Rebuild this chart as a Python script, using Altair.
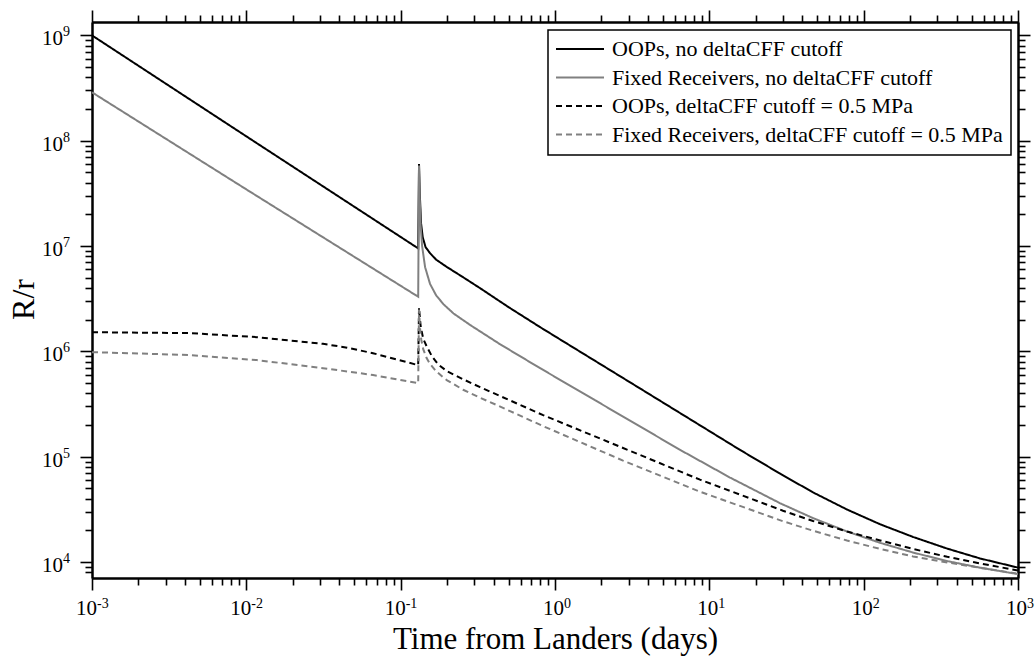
import altair as alt
import pandas as pd

SERIES = [
    "OOPs, no deltaCFF cutoff",
    "Fixed Receivers, no deltaCFF cutoff",
    "OOPs, deltaCFF cutoff = 0.5 MPa",
    "Fixed Receivers, deltaCFF cutoff = 0.5 MPa",
]
COLORS = ["#000000", "#808080", "#000000", "#808080"]
DASHES = [[1, 0], [1, 0], [6, 4], [6, 4]]

# OOPs, no cutoff (black solid)
OOPS_T = [0.001, 0.01, 0.1299, 0.1315, 0.133, 0.1355, 0.139, 0.145, 0.155, 0.17, 0.2, 0.25,
          0.327, 0.5, 0.8, 1.0, 3.57, 15.8, 28.8, 47, 78, 128, 209, 348, 569, 1000]
OOPS_R = [1.0e9, 1.1e8, 9.5e6, 6.0e7, 3.16e7, 1.65e7, 1.21e7, 9.77e6, 8.55e6, 7.41e6, 6.3e6,
          5.13e6, 3.98e6, 2.63e6, 1.7e6, 1.39e6, 4.43e5, 1.16e5, 6.89e4, 4.58e4, 3.15e4,
          2.28e4, 1.73e4, 1.34e4, 1.08e4, 8.85e3]

# Fixed receivers, no cutoff (grey solid)
FIX_T = [0.001, 0.01, 0.1299, 0.1315, 0.133, 0.1347, 0.1377, 0.144, 0.155, 0.17, 0.19, 0.22,
         0.282, 0.44, 0.8, 6.47, 13.6, 28.8, 47, 78, 128, 209, 348, 569, 1000]
FIX_R = [2.88e8, 3.45e7, 3.3e6, 5.8e7, 2.82e7, 1.58e7, 1.0e7, 6.3e6, 4.37e6, 3.39e6, 2.79e6,
         2.29e6, 1.78e6, 1.17e6, 6.93e5, 1.16e5, 6.34e4, 3.61e4, 2.61e4, 1.95e4, 1.52e4,
         1.23e4, 1.02e4, 8.83e3, 7.67e3]

# OOPs, cutoff 0.5 MPa (black dashed)
OOPS_C_T = [0.001, 0.0043, 0.0117, 0.0314, 0.045, 0.0662, 0.1299, 0.1315, 0.1335, 0.135,
            0.14, 0.148, 0.16, 0.175, 0.2, 0.254, 0.327, 0.428, 0.838, 2.76, 8.7, 30, 47,
            78, 128, 209, 348, 569, 1000]
OOPS_C_R = [1.52e6, 1.49e6, 1.365e6, 1.18e6, 1.084e6, 9.6e5, 7.4e5, 2.6e6, 2.0e6, 1.7e6,
            1.32e6, 1.1e6, 8.9e5, 7.5e5, 6.46e5, 5.43e5, 4.57e5, 3.84e5, 2.48e5, 1.21e5,
            6.05e4, 3.07e4, 2.45e4, 1.95e4, 1.6e4, 1.33e4, 1.12e4, 9.7e3, 8.3e3]

# Fixed receivers, cutoff 0.5 MPa (grey dashed)
FIX_C_T = [0.001, 0.0043, 0.0117, 0.0314, 0.0662, 0.1299, 0.1315, 0.1335, 0.136, 0.14, 0.147,
           0.155, 0.17, 0.188, 0.2, 0.254, 0.327, 0.428, 0.838, 2.76, 8.7, 30, 47, 78, 128,
           209, 348, 569, 1000]
FIX_C_R = [9.83e5, 9.23e5, 8.26e5, 6.93e5, 5.96e5, 5.0e5, 2.5e6, 1.66e6, 1.29e6, 1.05e6,
           8.7e5, 7.59e5, 6.46e5, 5.69e5, 5.31e5, 4.32e5, 3.63e5, 3.05e5, 1.95e5, 9.18e4,
           4.65e4, 2.44e4, 1.98e4, 1.6e4, 1.33e4, 1.13e4, 9.9e3, 8.8e3, 7.76e3]

X_EXP = [-3, -2, -1, 0, 1, 2, 3]
Y_EXP = [4, 5, 6, 7, 8, 9]
X_MAJOR = [10.0 ** e for e in X_EXP]
X_MINOR = [m * 10.0 ** e for e in range(-3, 3) for m in range(2, 10)]
Y_MAJOR = [10.0 ** e for e in Y_EXP]
Y_MINOR = [8000.0, 9000.0] + [m * 10.0 ** e for e in range(4, 9) for m in range(2, 10)]

FONT = "Liberation Serif"

rows = []
for name, ts, rs in [(SERIES[0], OOPS_T, OOPS_R), (SERIES[1], FIX_T, FIX_R),
                     (SERIES[2], OOPS_C_T, OOPS_C_R), (SERIES[3], FIX_C_T, FIX_C_R)]:
    for t, r in zip(ts, rs):
        rows.append({"t": t, "r": r, "series": name})
df = pd.DataFrame(rows)

W, H = 926, 556
xscale = alt.Scale(type="log", domain=[1e-3, 1e3], nice=False)
yscale = alt.Scale(type="log", domain=[7050, 1.34e9], nice=False)
cscale = alt.Scale(domain=SERIES, range=COLORS)
dscale = alt.Scale(domain=SERIES, range=DASHES)


def axis(orient, values, size, **kw):
    return alt.Axis(orient=orient, values=values, labels=False, grid=False, ticks=True,
                    tickSize=size, tickWidth=1.6, tickColor="black",
                    domainColor="black", domainWidth=2, **kw)


lines = alt.Chart(df).mark_line(strokeWidth=2, clip=True).encode(
    x=alt.X("t:Q", scale=xscale,
            axis=axis("bottom", X_MAJOR, 12, title="Time from Landers (days)",
                      titleFont=FONT, titleFontSize=31, titleFontWeight="normal",
                      titleColor="black", titleX=W / 2, titleY=70,
                      titleBaseline="alphabetic", titleAlign="center")),
    y=alt.Y("r:Q", scale=yscale,
            axis=axis("left", Y_MAJOR, 12, title="R/r",
                      titleFont=FONT, titleFontSize=32, titleFontWeight="normal",
                      titleColor="black", titleX=-59, titleY=277, titleAngle=270,
                      titleBaseline="alphabetic", titleAlign="center")),
    color=alt.Color("series:N", scale=cscale, legend=None),
    strokeDash=alt.StrokeDash("series:N", scale=dscale, legend=None),
)


def ghost(xo, xv, xs, yo, yv, ys):
    return alt.Chart(df).mark_line(strokeOpacity=0).encode(
        x=alt.X("t:Q", scale=xscale, axis=axis(xo, xv, xs, title=None)),
        y=alt.Y("r:Q", scale=yscale, axis=axis(yo, yv, ys, title=None)),
    )


g1 = ghost("bottom", X_MINOR, 7, "left", Y_MINOR, 7)
g2 = ghost("top", X_MAJOR, 12, "right", Y_MAJOR, 12)
g3 = ghost("top", X_MINOR, 7, "right", Y_MINOR, 7)

# tick labels: "10" plus a raised exponent
xl = alt.Chart(pd.DataFrame({"e": X_EXP})).transform_calculate(
    v="pow(10, datum.e)", s="'' + datum.e")
layers_x = []
for flt, off in [("datum.e < 0", 5), ("datum.e >= 0", 9)]:
    base = xl.transform_filter(flt)
    layers_x.append(base.mark_text(align="right", baseline="alphabetic", font=FONT,
                                   fontSize=21, dx=off, color="black").encode(
        x=alt.X("v:Q", scale=xscale, axis=None), y=alt.value(593), text=alt.value("10")))
    layers_x.append(base.mark_text(align="left", baseline="alphabetic", font=FONT,
                                   fontSize=14, dx=off, color="black").encode(
        x=alt.X("v:Q", scale=xscale, axis=None), y=alt.value(586), text="s:N"))

yl = alt.Chart(pd.DataFrame({"e": Y_EXP})).transform_calculate(
    v="pow(10, datum.e)", s="'' + datum.e")
y10 = yl.mark_text(align="right", baseline="alphabetic", font=FONT, fontSize=21, dy=10,
                   color="black").encode(
    x=alt.value(-29), y=alt.Y("v:Q", scale=yscale, axis=None), text=alt.value("10"))
yexp = yl.mark_text(align="left", baseline="alphabetic", font=FONT, fontSize=14, dy=1,
                    color="black").encode(
    x=alt.value(-29), y=alt.Y("v:Q", scale=yscale, axis=None), text="s:N")

# legend (drawn inside the plot, top right)
leg_df = pd.DataFrame({"series": SERIES, "row": list(range(len(SERIES)))})
leg_box = alt.Chart(pd.DataFrame({"a": [0]})).mark_rect(
    fill="white", stroke="black", strokeWidth=1.5).encode(
    x=alt.value(456), x2=alt.value(919), y=alt.value(8), y2=alt.value(133))
leg_base = alt.Chart(leg_df).transform_calculate(yp="27 + datum.row * 28.5")
leg_lines = leg_base.mark_rule(strokeWidth=2).encode(
    x=alt.value(464), x2=alt.value(512),
    y=alt.Y("yp:Q", scale=None, axis=None),
    color=alt.Color("series:N", scale=cscale, legend=None),
    strokeDash=alt.StrokeDash("series:N", scale=dscale, legend=None),
)
leg_text = leg_base.mark_text(align="left", baseline="middle", font=FONT, fontSize=22,
                              color="black").encode(
    x=alt.value(520), y=alt.Y("yp:Q", scale=None, axis=None), text="series:N")

chart = alt.layer(lines, g1, g2, g3, *layers_x, y10, yexp, leg_box, leg_lines, leg_text
                  ).resolve_axis(
    x="independent", y="independent"
).properties(
    width=W, height=H,
    autosize=alt.AutoSizeParams(type="none"),
    padding={"left": 92, "top": 22, "right": 17, "bottom": 90},
    background="white",
).configure_view(stroke=None)

chart.save("out.html", embed_options={"renderer": "svg", "actions": False})
